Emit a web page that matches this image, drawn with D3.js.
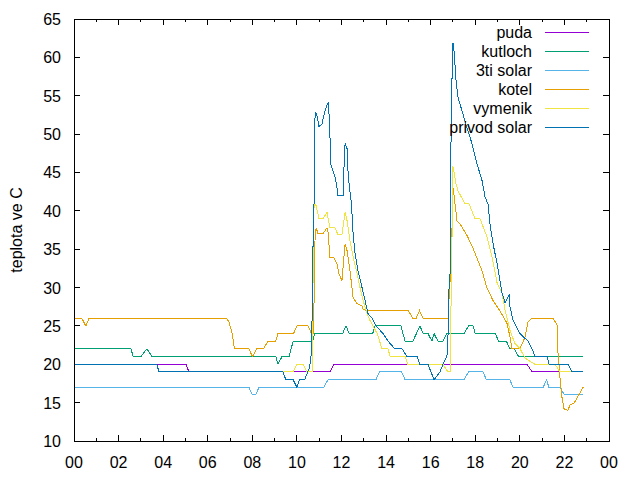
<!DOCTYPE html>
<html>
<head>
<script src="https://d3js.org/d3.v7.min.js"></script>
<style>
  body { margin: 0; background: #fff; }
  text { font-family: "Liberation Sans", Arial, sans-serif; font-size: 16px; fill: #000; }
</style>
</head>
<body>
<div id="chart"></div>
<script>
// [hour, temperature]
const puda = [[0,20],[5.02,20],[5.16,19],[11.48,19],[11.66,20],[20.32,20],[20.55,19],[22.85,19]];

const kutloch = [[0,22],[2.56,22],[2.65,21],[3.0,21],[3.27,22],[3.5,21],[9.06,21],[9.15,20],[9.33,21],
  [9.65,21],[9.83,23],[10.7,23],[10.8,24],[12.05,24],[12.2,25],[12.35,24],[13.4,24],[13.5,25],[14.67,25],
  [14.85,23],[15.2,23],[15.52,25],[15.66,24],[15.88,24],[16.06,23],[16.15,24],[16.33,23],[16.55,23],
  [16.73,24],[17.5,24],[17.7,25],[17.9,25],[18.0,24],[18.9,24],[19.05,23],[19.4,23],[19.55,22],[19.75,22],
  [19.95,21],[22.85,21]];

const solar3ti = [[0,17],[7.85,17],[8.0,16],[8.15,16],[8.3,17],[11.2,17],[11.4,18],[13.55,18],[13.7,19],
  [14.7,19],[14.85,18],[17.5,18],[17.7,19],[18.35,19],[18.5,18],[19.55,18],[19.7,17],[21.05,17],[21.2,18],
  [21.3,17],[21.8,17],[22.0,16],[22.85,16]];

const kotel = [[0,26],[0.35,26],[0.53,25],[0.68,26],[6.85,26],[6.95,25.5],[7.1,24],[7.2,22],[7.85,22],
  [8.0,21],[8.2,22],[8.5,22],[8.7,23],[9.05,23],[9.15,24],[9.85,24],[10.0,25],[10.5,25],[10.65,24],
  [10.75,24],[10.8,35.7],[10.86,37.8],[10.95,37],[11.17,37],[11.35,37.8],[11.4,37.2],[11.48,33.9],
  [11.66,33.9],[11.8,33.1],[11.89,31.8],[12.02,30.9],[12.16,35.7],[12.25,34.8],[12.38,32.2],[12.47,30],
  [12.52,28.7],[12.7,27.9],[12.92,27.6],[12.97,27.2],[13.14,27],[15.0,27],[15.2,26],[15.35,26],[15.5,27],
  [15.66,26],[16.78,26],[16.85,30],[16.92,33],[17.0,43],[17.05,42],[17.18,38.7],[17.32,38.3],[17.63,36.8],
  [17.9,35.1],[18.3,32.2],[18.53,29.9],[18.8,28.3],[19.1,27],[19.43,25.3],[19.56,23.5],[19.65,22],
  [20.0,22],[20.23,23.5],[20.37,25.5],[20.55,26],[21.49,26],[21.67,25.1],[21.71,21.6],[21.8,18.3],
  [21.89,15.7],[21.98,14.2],[22.16,14],[22.25,14.7],[22.45,15],[22.84,17]];

const vymenik = [[0,20],[3.72,20],[3.81,19],[9.83,19],[10.0,20],[10.27,20],[10.45,19],[10.68,19],
  [10.72,30],[10.77,41],[10.86,40.7],[10.99,39],[11.17,39],[11.35,39.8],[11.48,37.8],[11.71,37.8],
  [11.84,36.9],[12.02,36.9],[12.16,39.8],[12.25,38.7],[12.38,36.1],[12.52,34],[12.7,31.8],[12.83,30],
  [12.97,28.3],[13.15,26.6],[13.28,25.7],[13.6,24],[13.82,22],[14.09,22],[14.18,21],[14.85,21],[14.98,20],
  [16.55,20],[16.78,19],[16.87,19],[16.95,35],[17.0,45.8],[17.14,43.5],[17.23,42.6],[17.54,40.9],
  [17.72,40.9],[17.99,39],[18.21,39],[18.53,36.6],[18.75,34],[18.98,30.6],[19.2,29.3],[19.34,27],
  [19.56,24.4],[19.78,22.7],[20.0,22.1],[20.23,20.8],[20.68,20],[21.58,20],[21.8,19],[22.85,19]];

const privodSolar = [[0,20],[3.72,20],[3.81,19],[9.38,19],[9.5,18],[9.83,18],[10.0,17],[10.12,18],
  [10.35,18],[10.57,19.6],[10.66,21.8],[10.72,35],[10.77,41.3],[10.77,47.6],[10.82,52.9],[10.9,52.4],
  [10.99,51],[11.12,51.3],[11.26,53],[11.35,53.8],[11.4,54],[11.44,52.6],[11.48,49.8],[11.53,45.9],
  [11.62,45.2],[11.71,44.4],[11.8,43],[11.84,42],[12.07,42],[12.11,45.5],[12.16,48.8],[12.25,48.1],
  [12.29,45.2],[12.34,43.5],[12.43,41.3],[12.47,39.6],[12.52,37],[12.61,34.4],[12.74,32.2],[12.92,30],
  [13.06,28.3],[13.19,26.6],[13.37,26],[13.55,25],[13.86,24],[14.09,23],[14.4,22],[14.72,22],[14.94,21],
  [15.39,21],[15.52,20],[15.88,20],[16.15,18],[16.42,19],[16.55,20],[16.73,21],[16.78,24],[16.82,29.6],
  [16.87,31.8],[16.9,42.6],[16.93,57.3],[16.97,57.3],[17.0,61.9],[17.05,60.8],[17.14,56.9],[17.23,54.7],
  [17.41,53],[17.63,50.8],[17.86,48.7],[18.08,46.1],[18.3,44],[18.44,41.8],[18.57,40.9],[18.66,38.3],
  [18.8,35.7],[18.98,33.1],[19.2,29.3],[19.34,28],[19.52,29],[19.56,27.5],[19.7,25.7],[20.01,24],
  [20.37,23],[20.55,22],[20.68,21],[21.22,21],[21.31,20],[22.16,20],[22.34,19],[22.85,19]];

const seriesNames = ['puda', 'kutloch', '3ti solar', 'kotel', 'vymenik', 'privod solar'];
const seriesData = [puda, kutloch, solar3ti, kotel, vymenik, privodSolar];
const xTicks = d3.range(0, 25, 2);
const yTicks = d3.range(10, 66, 5);

const colors = ['#9400d3', '#009e73', '#56b4e9', '#e69f00', '#f0e442', '#0072b2'];

const w = 640, h = 480;
const mLeft = 74, mRight = 609, mTop = 19, mBottom = 441;

const svg = d3.select('#chart').append('svg')
  .attr('width', w).attr('height', h);

const x = d3.scaleLinear().domain([0, 24]).range([mLeft, mRight]);
const y = d3.scaleLinear().domain([10, 65]).range([mBottom, mTop]);

// ticks (gnuplot style: inward, mirrored)
const g = svg.append('g').attr('shape-rendering', 'crispEdges');
const minor = d3.range(1, 24, 2);
g.selectAll('.xt').data(xTicks).enter().append('path')
  .attr('d', d => `M${x(d)},${mBottom}v-6M${x(d)},${mTop}v6`)
  .attr('stroke', '#000');
g.selectAll('.xm').data(minor).enter().append('path')
  .attr('d', d => `M${x(d)},${mBottom}v-3M${x(d)},${mTop}v3`)
  .attr('stroke', '#000');
g.selectAll('.yt').data(yTicks).enter().append('path')
  .attr('d', d => `M${mLeft},${y(d)}h6M${mRight},${y(d)}h-6`)
  .attr('stroke', '#000');

svg.selectAll('.xl').data(xTicks).enter().append('text')
  .attr('x', d => x(d)).attr('y', 468)
  .attr('text-anchor', 'middle')
  .text(d => String(d % 24).padStart(2, '0'));
svg.selectAll('.yl').data(yTicks).enter().append('text')
  .attr('x', 61).attr('y', d => y(d) + 6)
  .attr('text-anchor', 'end')
  .text(d => d);

svg.append('text')
  .attr('transform', `translate(22,${(mTop + mBottom) / 2}) rotate(-90)`)
  .attr('text-anchor', 'middle')
  .text('teplota ve C');

// data lines
const line = d3.line().x(d => x(d[0])).y(d => y(d[1]));
seriesData.forEach((s, i) => {
  svg.append('path')
    .datum(s)
    .attr('d', line)
    .attr('fill', 'none')
    .attr('stroke', colors[i])
    .attr('stroke-width', 1)
    .attr('shape-rendering', 'crispEdges');
});

// legend
seriesNames.forEach((n, i) => {
  const ly = 32 + i * 19;
  svg.append('text').attr('x', 532).attr('y', ly + 6)
    .attr('text-anchor', 'end').text(n);
  svg.append('rect').attr('x', 545).attr('y', ly)
    .attr('width', 44).attr('height', 1)
    .attr('fill', colors[i]);
});

// border
svg.append('rect')
  .attr('x', mLeft + 0.5).attr('y', mTop + 0.5)
  .attr('width', mRight - mLeft).attr('height', mBottom - mTop)
  .attr('fill', 'none').attr('stroke', '#000');
</script>
</body>
</html>
